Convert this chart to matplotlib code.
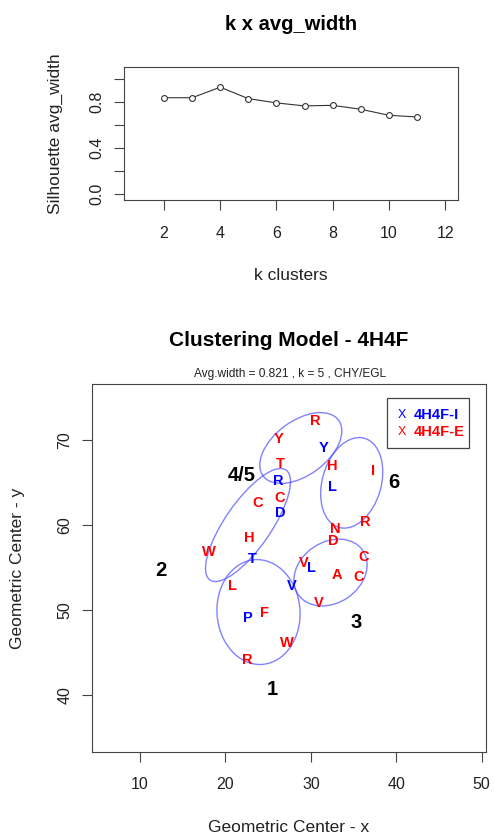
import matplotlib
matplotlib.use("Agg")
import matplotlib.pyplot as plt
from matplotlib.patches import Ellipse, Rectangle

plt.rcParams['font.family'] = ['Liberation Sans', 'DejaVu Sans']

# ---- silhouette width per number of clusters ----
k_values = [2, 3, 4, 5, 6, 7, 8, 9, 10, 11]
avg_width = [0.834, 0.834, 0.925, 0.826, 0.789, 0.763, 0.768, 0.734, 0.682, 0.667]

# ---- residue geometric centres, interior (I) and exterior (E) sets ----
res_i_label = ['Y', 'R', 'L', 'D', 'T', 'V', 'P', 'L']
res_i_x = [31.46, 26.19, 32.56, 26.48, 23.20, 27.76, 22.61, 30.11]
res_i_y = [69.21, 65.29, 64.59, 61.56, 56.20, 53.02, 49.21, 55.09]

res_e_label = ['R', 'Y', 'T', 'H', 'I', 'C', 'C', 'N', 'R', 'D', 'H', 'W', 'L',
               'F', 'W', 'R', 'V', 'A', 'C', 'C', 'V']
res_e_x = [30.49, 26.19, 26.48, 32.56, 37.25, 23.74, 26.39, 32.83, 36.40, 32.63,
           22.80, 18.11, 20.85, 24.52, 27.18, 22.61, 29.12, 33.10, 36.23, 35.56, 30.96]
res_e_y = [72.35, 70.32, 67.38, 67.06, 66.47, 62.74, 63.33, 59.73, 60.55, 58.32,
           58.62, 56.98, 52.94, 49.80, 46.27, 44.32, 55.68, 54.32, 56.35, 54.00, 50.98]

# ---- cluster ellipses and their names ----
cluster_name = ['1', '2', '3', '4/5', '6']
ell_cx = [23.87, 22.64, 32.30, 28.82, 34.78]
ell_cy = [49.76, 60.00, 54.41, 69.06, 64.96]
ell_w = [9.72, 15.7, 9.17, 11.0, 10.9]
ell_h = [12.35, 5.4, 7.15, 6.38, 6.9]
ell_angle = [4, 55.5, 34.7, 36.7, 74.2]
name_x = [25.46, 12.42, 35.29, 21.91, 39.66]
name_y = [40.82, 54.91, 48.74, 66.00, 65.26]

legend_labels = ['4H4F-I', '4H4F-E']

W, H = 494, 834
BLUE = '#0000ff'
RED = '#ff0000'
FRAME = '#444444'

fig = plt.figure(figsize=(W / 100, H / 100), dpi=100)


def fx(px):
    return px / W


def fy(py):
    return 1 - py / H


def style_axes(ax):
    for s in ax.spines.values():
        s.set_color(FRAME)
        s.set_linewidth(0.8)
    ax.tick_params(direction='out', length=7.2, width=0.8, color=FRAME,
                   labelsize=11.5, labelcolor='#222222')
    for t in ax.get_yticklabels():
        t.set_rotation(90)
        t.set_va('center')


# ---------------- top panel ----------------
ax1 = fig.add_axes([fx(124), fy(200), fx(458) - fx(124), fy(67) - fy(200)])
ax1.plot(k_values, avg_width, color='#333333', lw=0.8, marker='o', ms=4.2,
         mfc='white', mec='#333333', mew=0.8)
ax1.set_xlim(0.576, 12.46)
ax1.set_ylim(-0.052, 1.10)
ax1.set_xticks([2, 4, 6, 8, 10, 12])
ax1.set_yticks([0.0, 0.2, 0.4, 0.6, 0.8, 1.0])
ax1.set_yticklabels(['0.0', '', '0.4', '', '0.8', ''])
style_axes(ax1)
ax1.tick_params(axis='x', pad=11.5)
ax1.tick_params(axis='y', pad=7)

fig.text(fx(291), fy(25), 'k x avg_width', fontsize=14.5, fontweight='bold',
         ha='center', va='center')
fig.text(fx(291), fy(275), 'k clusters', fontsize=12.5, ha='center', va='center',
         color='#222222')
fig.text(fx(55), fy(133.5), 'Silhouette avg_width', fontsize=12.5, rotation=90,
         ha='center', va='center', color='#222222')

# ---------------- bottom panel ----------------
ax2 = fig.add_axes([fx(92), fy(751.7), fx(485.5) - fx(92), fy(384) - fy(751.7)])
ax2.set_xlim(4.381, 50.44)
ax2.set_ylim(33.33, 76.59)
ax2.set_xticks([10, 20, 30, 40, 50])
ax2.set_yticks([40, 50, 60, 70])
style_axes(ax2)
ax2.tick_params(axis='x', pad=11)
ax2.tick_params(axis='y', pad=7)

for cx, cy, w, h, a in zip(ell_cx, ell_cy, ell_w, ell_h, ell_angle):
    ax2.add_patch(Ellipse((cx, cy), w, h, angle=a, fill=False,
                          edgecolor=(0.3, 0.3, 1.0, 0.7), lw=1.0))


def put_letter(ax, x, y, s, color, size):
    # baseline shifted down by half a cap height so the glyph is centred on (x, y)
    ax.annotate(s, (x, y), xytext=(0, -0.36 * size), textcoords='offset points',
                ha='center', va='baseline', fontsize=size, fontweight='bold',
                color=color)


for s, x, y in zip(res_i_label, res_i_x, res_i_y):
    put_letter(ax2, x, y, s, BLUE, 10.5)
for s, x, y in zip(res_e_label, res_e_x, res_e_y):
    put_letter(ax2, x, y, s, RED, 10.5)
for s, x, y in zip(cluster_name, name_x, name_y):
    put_letter(ax2, x, y, s, 'black', 14.5)

# legend box
def ax_frac(px, py):
    return ((px - 92) / (485.5 - 92), (751.7 - py) / (751.7 - 384))


x0, y0 = ax_frac(387.3, 448.3)
x1, y1 = ax_frac(469.3, 397.7)
ax2.add_patch(Rectangle((x0, y0), x1 - x0, y1 - y0, transform=ax2.transAxes,
                        fill=True, facecolor='white', edgecolor=FRAME, lw=0.9,
                        zorder=5))
for lab, col, py in zip(legend_labels, [BLUE, RED], [415, 432.3]):
    mx, my = ax_frac(401.7, py)
    tx, _ = ax_frac(413.3, py)
    ax2.text(mx, my, 'X', transform=ax2.transAxes, ha='center', va='center',
             fontsize=9, color=col, zorder=6)
    ax2.text(tx, my, lab, transform=ax2.transAxes, ha='left', va='center',
             fontsize=10.5, fontweight='bold', color=col, zorder=6)

fig.text(fx(288.3), fy(340), 'Clustering Model - 4H4F', fontsize=15,
         fontweight='bold', ha='center', va='center')
fig.text(fx(289.7), fy(374.3), 'Avg.width = 0.821 , k = 5 , CHY/EGL',
         fontsize=8.6, ha='center', va='center', color='#222222')
fig.text(fx(289), fy(827.7), 'Geometric Center - x', fontsize=12.5,
         ha='center', va='center', color='#222222')
fig.text(fx(18), fy(567.9), 'Geometric Center - y', fontsize=12.5, rotation=90,
         ha='center', va='center', color='#222222')

fig.savefig('out.png', dpi=100)
